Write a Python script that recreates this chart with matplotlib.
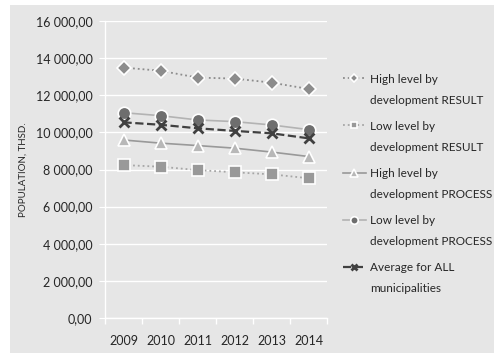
import matplotlib
matplotlib.use("Agg")
from matplotlib import pyplot as plt
from matplotlib.patches import Rectangle
from matplotlib.ticker import FuncFormatter, FixedLocator

plt.rcParams['font.family'] = ['Lato', 'DejaVu Sans']

years = ['2009', '2010', '2011', '2012', '2013', '2014']
high_result = [13490, 13320, 12950, 12900, 12680, 12340]
low_result = [8240, 8150, 7970, 7850, 7740, 7530]
high_process = [9590, 9420, 9290, 9150, 8940, 8700]
low_process = [11060, 10900, 10670, 10580, 10400, 10150]
average_all = [10540, 10410, 10220, 10080, 9950, 9680]
labels = [('High level by', 'development RESULT'),
          ('Low level by', 'development RESULT'),
          ('High level by', 'development PROCESS'),
          ('Low level by', 'development PROCESS'),
          ('Average for ALL', 'municipalities')]

bg = '#e6e6e6'
txt = '#262626'

fig = plt.figure(figsize=(4.94, 3.53), dpi=100)
fig.patch.set_facecolor('white')
fig.patches.append(Rectangle((10 / 494, 0), 1, 348 / 353, transform=fig.transFigure,
                             facecolor=bg, edgecolor='none', zorder=-10))

ax = fig.add_axes([105 / 494, 35 / 353, 222 / 494, 297 / 353])
ax.set_facecolor(bg)

x = list(range(len(years)))
ax.plot(x, high_result, ls=':', lw=1.3, c='#8c8c8c', marker='D', ms=7,
        mfc='#8c8c8c', mec='white', mew=1.2, label=labels[0][0])
ax.plot(x, low_result, ls=':', lw=1.3, c='#a6a6a6', marker='s', ms=8,
        mfc='#999999', mec='white', mew=1.2, label=labels[1][0])
ax.plot(x, high_process, ls='-', lw=1.2, c='#999999', marker='^', ms=9,
        mfc='#b8b8b8', mec='white', mew=1.2, label=labels[2][0])
ax.plot(x, low_process, ls='-', lw=1.2, c='#b3b3b3', marker='o', ms=9,
        mfc='#6e6e6e', mec='white', mew=1.2, label=labels[3][0])
ax.plot(x, average_all, ls='--', lw=1.6, c='#404040', marker='x', ms=7,
        mec='#404040', mew=2, label=labels[4][0])

ax.set_xlim(-0.5, len(years) - 0.5)
ax.set_ylim(0, 16000)
ax.set_yticks(range(0, 16001, 2000))
ax.yaxis.set_major_formatter(FuncFormatter(lambda v, p: '{:,.2f}'.format(v).replace(',', ' ').replace('.', ',')))
ax.set_xticks(x)
ax.set_xticklabels(years)
ax.xaxis.set_minor_locator(FixedLocator([i - 0.5 for i in range(len(years) + 1)]))
ax.tick_params(axis='x', which='major', length=0, pad=12, labelsize=9, labelcolor=txt)
ax.tick_params(axis='x', which='minor', length=4, color='white', width=1)
ax.tick_params(axis='y', length=4, color='white', labelsize=9, labelcolor=txt, pad=5)
ax.grid(axis='y', color='white', lw=1)
ax.set_axisbelow(True)
for side in ['top', 'right']:
    ax.spines[side].set_visible(False)
for side in ['left', 'bottom']:
    ax.spines[side].set_color('white')
    ax.spines[side].set_linewidth(1)

ax.set_ylabel('POPULATION, THSD.', fontsize=7, color=txt, labelpad=6)

# legend holds the first line of each label, second lines go under it
leg = fig.legend(loc='upper left', bbox_to_anchor=(332 / 494, 1 - 63 / 353), frameon=False,
                 fontsize=8.5, handlelength=2.0, handletextpad=0.3, labelspacing=3.05,
                 markerscale=0.6, labelcolor=txt)
fig.canvas.draw()
inv = fig.transFigure.inverted()
for t, (_, second) in zip(leg.get_texts(), labels):
    bb = t.get_window_extent()
    x0, y0 = inv.transform((bb.x0, bb.y0 - 21 * fig.dpi / 100))
    fig.text(x0, y0, second, fontsize=8.5, color=txt, ha='left', va='bottom')

plt.savefig('out.png', dpi=100, facecolor='white')
